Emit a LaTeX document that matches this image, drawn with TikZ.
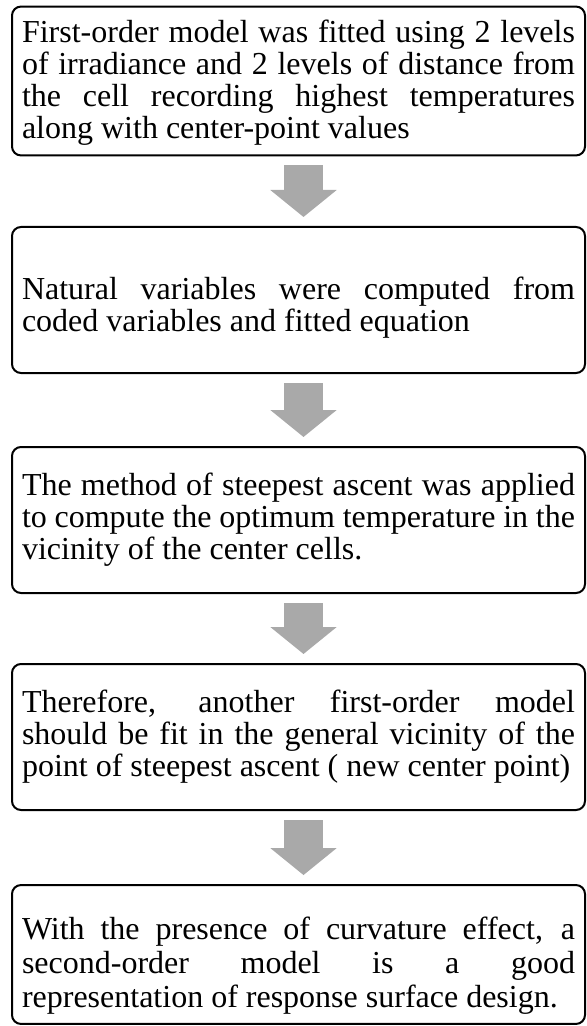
\documentclass[tikz,border=0pt]{standalone}
\usepackage{fontspec}
\setmainfont{Liberation Serif}
\usepackage{tikz}
\usepackage{xcolor}
\usetikzlibrary{arrows.meta}
\definecolor{flow}{HTML}{A9A9A9}
\tolerance=10000
\hyphenpenalty=10000
% strut that pushes the first line down
\newcommand{\toppad}[1]{\rule{0pt}{#1}}

\begin{document}
\begin{tikzpicture}[x=0.5pt,y=-0.5pt,
  stagebox/.style={draw,line width=1pt,rounded corners=4.5pt,
    text width=276.5pt,inner xsep=5pt,inner ysep=5pt,
    minimum width=286.5pt,minimum height=73pt,align=justify,
    font=\fontsize{16}{16}\selectfont},
  flowarrow/.style={draw=flow,line width=19.5pt,
    -{Triangle[length=13.5pt,width=32.5pt]},
    shorten <=4.5pt,shorten >=4.5pt}]
\useasboundingbox (0,0) rectangle (586,1026);

\node[stagebox] (firstorder) at (298.5,81) {\toppad{13pt}First-order model was fitted using 2 levels\linebreak of irradiance and 2 levels of distance from\linebreak the cell recording highest temperatures\linebreak along with center-point values};
\node[stagebox] (natural) at (298.5,300) {\toppad{19pt}Natural variables were computed from\linebreak coded variables and fitted equation};
\node[stagebox] (ascent) at (298.5,520) {The method of steepest ascent was applied\linebreak to compute the optimum temperature in the\linebreak vicinity of the center cells.};
\node[stagebox] (refit) at (298.5,737) {Therefore, another first-order model\linebreak should be fit in the general vicinity of the\linebreak point of steepest ascent ( new center point)};
\node[stagebox,minimum height=68.5pt,font=\fontsize{16}{17}\selectfont] (secondorder) at (298.5,954.5) {\toppad{22pt}With the presence of curvature effect, a\linebreak second-order model is a good\linebreak representation of response surface design.};

\draw[flowarrow] ([xshift=2.5pt]firstorder.south) -- ([xshift=2.5pt]natural.north);
\draw[flowarrow] ([xshift=2.5pt]natural.south) -- ([xshift=2.5pt]ascent.north);
\draw[flowarrow] ([xshift=2.5pt]ascent.south) -- ([xshift=2.5pt]refit.north);
\draw[flowarrow] ([xshift=2.5pt]refit.south) -- ([xshift=2.5pt]secondorder.north);
\end{tikzpicture}
\end{document}
